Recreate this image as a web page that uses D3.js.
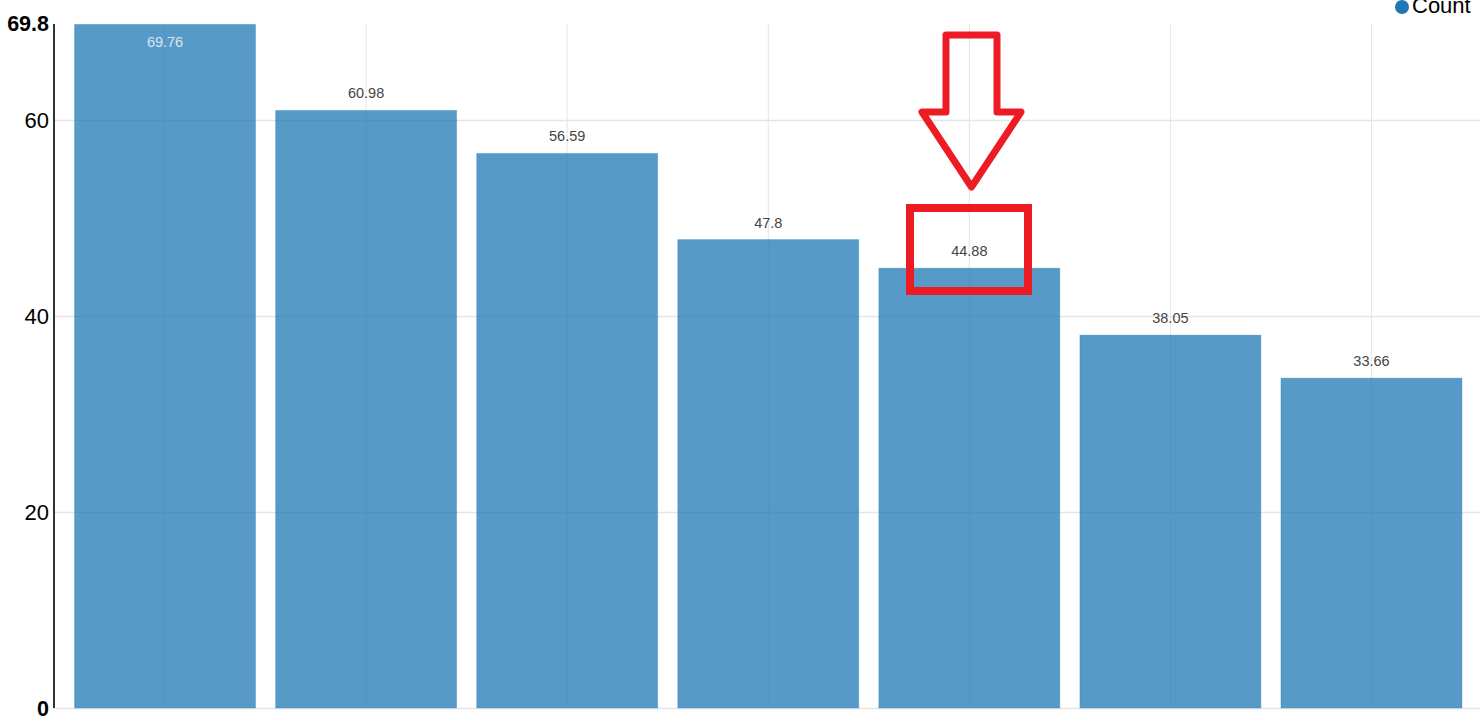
<!DOCTYPE html>
<html><head><meta charset="utf-8">
<script src="https://cdn.jsdelivr.net/npm/d3@7/dist/d3.min.js"></script>
<style>
html,body{margin:0;padding:0;background:#fff;}
svg{display:block;font-family:"Liberation Sans",Arial,sans-serif;}
</style></head>
<body>
<svg id="chart" width="1480" height="722"></svg>
<script>
const categories = ["A","B","C","D","E","F","G"];
const values = [69.76, 60.98, 56.59, 47.8, 44.88, 38.05, 33.66];
const yTicks = [20, 40, 60];
const yMin = 0, yMax = 69.8;
const seriesName = "Count";

(function(){
const svg = d3.select("#chart");
const pLeft = 54, pTop = 24, pBottom = 708, pRight = 1480;

const x = d3.scaleBand().domain(categories).range([64.5, 1472]).paddingInner(0.1).paddingOuter(0.05);
const y = d3.scaleLinear().domain([yMin, yMax]).range([pBottom, pTop]);

const g = svg.append("g");

// vertical gridlines
g.selectAll("line.vg").data(categories).join("line")
  .attr("x1", d => x(d) + x.bandwidth()/2).attr("x2", d => x(d) + x.bandwidth()/2)
  .attr("y1", pTop).attr("y2", pBottom)
  .attr("stroke", "#e5e5e5").attr("stroke-width", 1);

// horizontal gridlines
g.selectAll("line.hg").data([0, ...yTicks]).join("line")
  .attr("x1", pLeft).attr("x2", pRight)
  .attr("y1", d => Math.round(y(d)) + 0.5).attr("y2", d => Math.round(y(d)) + 0.5)
  .attr("stroke", "#e5e5e5").attr("stroke-width", 1.5);

// bars
g.selectAll("rect.bar").data(values).join("rect")
  .attr("x", (d,i) => x(categories[i]))
  .attr("width", x.bandwidth())
  .attr("y", d => y(d))
  .attr("height", d => y(0) - y(d))
  .attr("fill", "#1f77b4").attr("fill-opacity", 0.75)
  .attr("stroke", "#1f77b4").attr("stroke-opacity", 0.3).attr("stroke-width", 1);

// value labels
g.selectAll("text.val").data(values).join("text")
  .attr("x", (d,i) => x(categories[i]) + x.bandwidth()/2)
  .attr("y", d => (y(d) - 12 < pTop) ? y(d) + 23 : y(d) - 12)
  .attr("text-anchor", "middle")
  .attr("font-size", 14.5)
  .attr("fill", d => (y(d) - 12 < pTop) ? "#d6e6f2" : "#444")
  .text(d => d);

// y axis line
g.append("line").attr("x1", pLeft).attr("x2", pLeft).attr("y1", pTop).attr("y2", pBottom)
  .attr("stroke", "#333").attr("stroke-width", 2);

// y tick labels
g.selectAll("text.yt").data(yTicks).join("text")
  .attr("x", pLeft - 5).attr("y", d => y(d)).attr("dy", "0.36em")
  .attr("text-anchor", "end").attr("font-size", 22).attr("fill", "#000")
  .text(d => d);
g.append("text").attr("x", pLeft - 5).attr("y", y(yMax)).attr("dy", "0.34em")
  .attr("text-anchor", "end").attr("font-size", 21.5).attr("font-weight", "bold").text(yMax);
g.append("text").attr("x", pLeft - 5).attr("y", y(yMin)).attr("dy", "0.36em")
  .attr("text-anchor", "end").attr("font-size", 21.5).attr("font-weight", "bold").text(yMin);

// legend
const lg = svg.append("g");
lg.append("circle").attr("cx", 1402).attr("cy", 7).attr("r", 7).attr("fill", "#1f77b4");
lg.append("text").attr("x", 1412).attr("y", 13).attr("font-size", 22).attr("fill", "#000").text(seriesName);

// annotation: arrow + box
const ann = svg.append("g").attr("fill", "none").attr("stroke", "#ed1c24").attr("stroke-linejoin", "round");
ann.append("path").attr("stroke-width", 7)
  .attr("d", "M946,35 L997,35 L997,112 L1021,112 L971.5,187 L922,112 L946,112 Z");
ann.append("rect").attr("stroke-width", 8).attr("stroke-linejoin", "miter")
  .attr("x", 910).attr("y", 208).attr("width", 118).attr("height", 83);
})();
</script>
</body></html>
